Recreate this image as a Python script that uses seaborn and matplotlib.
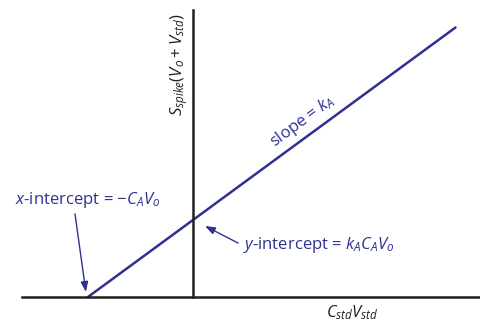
import matplotlib
matplotlib.use("Agg")
import matplotlib.pyplot as plt
import seaborn as sns
import pandas as pd

# Data (standard-additions line: y = k_A*(x + C_A V_o), k_A = 1, C_A V_o = 1)
x_vals = [-1.0, 2.5]
y_vals = [0.0, 3.5]
line_color = "#2e3192"
axis_color = "#231f20"

sns.set_theme(style="white")
plt.rcParams["font.family"] = ["Open Sans", "DejaVu Sans"]
plt.rcParams["mathtext.fontset"] = "custom"
plt.rcParams["mathtext.rm"] = "Open Sans"
plt.rcParams["mathtext.it"] = "Open Sans:italic"
plt.rcParams["mathtext.bf"] = "Open Sans:bold"

fig = plt.figure(figsize=(4.81, 3.24), dpi=100)
ax = fig.add_axes([0, 0, 1, 1])

df = pd.DataFrame({"x": x_vals, "y": y_vals})
sns.lineplot(data=df, x="x", y="y", ax=ax, color=line_color, linewidth=1.8)

ax.set_xlim(-1.838, 2.743)
ax.set_ylim(-0.351, 3.857)

for s in ["top", "right"]:
    ax.spines[s].set_visible(False)
ax.spines["left"].set_position(("data", 0))
ax.spines["bottom"].set_position(("data", 0))
ax.spines["left"].set_bounds(0, 3.73)
ax.spines["bottom"].set_bounds(-1.63, 2.743)
for s in ["left", "bottom"]:
    ax.spines[s].set_color(axis_color)
    ax.spines[s].set_linewidth(1.8)
ax.set_xticks([])
ax.set_yticks([])
ax.set_xlabel("")
ax.set_ylabel("")
ax.patch.set_alpha(0)

fs = 12
ax.text(0.372, 0.80, r"$S_{spike}(V_o + V_{std})$",
        transform=ax.transAxes, rotation=90, ha="center", va="center",
        fontsize=fs, color=axis_color)
ax.text(0.732, 0.035, r"$C_{std}V_{std}$", transform=ax.transAxes,
        ha="center", va="center", fontsize=fs, color=axis_color)

ax.text(0.630, 0.625, r"slope = $k_A$", transform=ax.transAxes,
        rotation=36.4, ha="center", va="center", fontsize=fs, color=line_color,
        rotation_mode="anchor")

ax.text(0.183, 0.383, r"$x$-intercept = $-C_AV_o$", transform=ax.transAxes,
        ha="center", va="center", fontsize=fs, color=line_color)
ax.text(0.505, 0.245, r"$y$-intercept = $k_AC_AV_o$", transform=ax.transAxes,
        ha="left", va="center", fontsize=fs, color=line_color)

arrow = dict(arrowstyle="-|>,head_length=0.6,head_width=0.22", color=line_color,
             lw=1.0, shrinkA=0, shrinkB=0, mutation_scale=10)
ax.annotate("", xy=(-1.02, 0.065), xytext=(-1.124, 1.08), arrowprops=arrow)
ax.annotate("", xy=(0.114, 0.922), xytext=(0.43, 0.70), arrowprops=arrow)

fig.savefig("out.png", dpi=100)
